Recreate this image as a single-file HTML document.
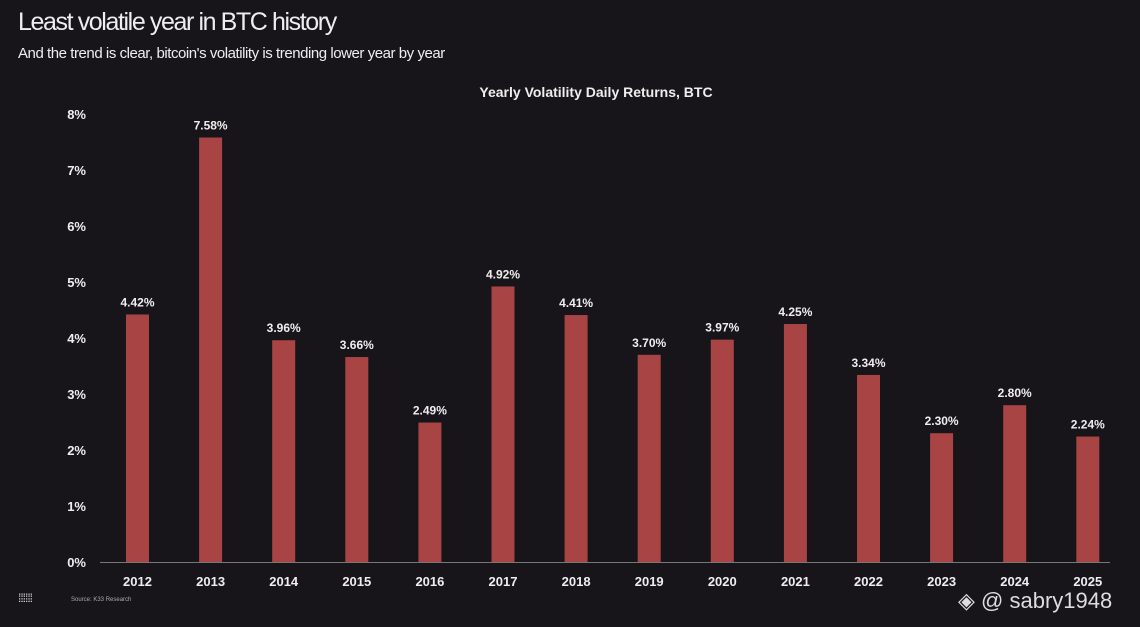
<!DOCTYPE html>
<html><head><meta charset="utf-8"><style>
html,body{margin:0;padding:0;background:#18151a;}
body{width:1140px;height:627px;overflow:hidden;position:relative;font-family:"Liberation Sans",sans-serif;color:#eee;}
.t{position:absolute;white-space:nowrap;}
</style></head><body>
<div class="t" style="left:18px;top:8px;font-size:25px;letter-spacing:-1.4px;color:#eee;">Least volatile year in BTC history</div>
<div class="t" style="left:18px;top:45px;font-size:15px;letter-spacing:-0.45px;color:#eee;">And the trend is clear, bitcoin's volatility is trending lower year by year</div>
<svg id="c" width="1140" height="627" style="position:absolute;left:0;top:0"></svg>
<div class="t" style="left:71px;top:597px;font-size:6px;color:#aaa;">Source: K33 Research</div>
<div class="t" style="left:18px;top:591px;font-size:12px;color:#ddd;letter-spacing:-1px;">⁞⁞⁞⁞⁞⁞</div>
<div class="t" style="left:958px;top:588px;font-size:22px;color:#ddd;">◈ @ sabry1948</div>
<script>
const categories=["2012","2013","2014","2015","2016","2017","2018","2019","2020","2021","2022","2023","2024","2025"];
const values=[4.42,7.58,3.96,3.66,2.49,4.92,4.41,3.70,3.97,4.25,3.34,2.30,2.80,2.24];
const yTicks=[0,1,2,3,4,5,6,7,8];
const svg=document.getElementById('c');
const NS='http://www.w3.org/2000/svg';
const y=v=>562-v*56;
const x=i=>137.5+i*73.1;
function mk(t,a){const e=document.createElementNS(NS,t);for(const k in a)e.setAttribute(k,a[k]);svg.appendChild(e);return e;}
const title=mk('text',{x:596,y:97,'text-anchor':'middle','font-size':14,'font-weight':'bold',fill:'#eee'});
title.textContent='Yearly Volatility Daily Returns, BTC';


yTicks.forEach(t=>{const e=mk('text',{x:86,y:y(t)+5,'text-anchor':'end','font-size':13,'font-weight':'bold',fill:'#eee'});e.textContent=t+'%';

});
const ax=mk('line',{x1:100,x2:1110,y1:562.5,y2:562.5,stroke:'#777','stroke-width':1});


categories.forEach((c,i)=>{
const b=mk('rect',{x:x(i)-11.5,y:y(values[i]),width:23,height:y(0)-y(values[i]),fill:'#a94445'});


const l=mk('text',{x:x(i),y:y(values[i])-8,'text-anchor':'middle','font-size':12,'font-weight':'bold',fill:'#eee'});l.textContent=values[i].toFixed(2)+'%';


const xl=mk('text',{x:x(i),y:586,'text-anchor':'middle','font-size':13,'font-weight':'bold',fill:'#eee'});xl.textContent=c;


});
</script>
</body></html>
